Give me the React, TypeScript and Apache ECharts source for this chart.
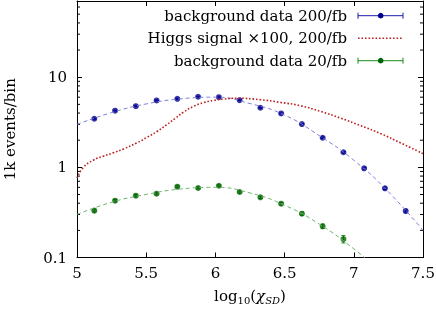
import React, { useEffect, useRef } from 'react';
import * as echarts from 'echarts';

// ---- data ----
const xBins = [5.125, 5.275, 5.425, 5.575, 5.725, 5.875, 6.025, 6.175, 6.325, 6.475, 6.625, 6.775, 6.925, 7.075, 7.225, 7.375];
const bg200 = [3.46, 4.25, 4.77, 5.52, 5.76, 6.07, 6.0, 5.56, 4.58, 3.96, 3.02, 2.13, 1.47, 0.975, 0.585, 0.328];
const bg200Err = [0.05, 0.05, 0.05, 0.06, 0.06, 0.06, 0.06, 0.06, 0.05, 0.05, 0.04, 0.04, 0.03, 0.025, 0.02, 0.015];
const bg20 = [0.331, 0.427, 0.485, 0.51, 0.61, 0.59, 0.625, 0.533, 0.465, 0.395, 0.306, 0.222, 0.16];
const bg20Err = [0.012, 0.013, 0.014, 0.014, 0.016, 0.015, 0.016, 0.015, 0.014, 0.013, 0.012, 0.013, 0.015];

const fit200X = [5.0, 5.25, 5.5, 5.75, 6.0, 6.25, 6.5, 6.75, 7.0, 7.25, 7.5];
const fit200Y = [2.99, 4.05, 5.05, 5.75, 6.0, 5.1, 3.8, 2.25, 1.2, 0.535, 0.2];
const fit20X = [5.0, 5.25, 5.5, 5.75, 6.0, 6.25, 6.5, 6.75, 7.0, 7.1];
const fit20Y = [0.3, 0.41, 0.5, 0.575, 0.6, 0.52, 0.38, 0.235, 0.125, 0.092];

const higgsX = [5.0, 5.046, 5.118, 5.19, 5.263, 5.336, 5.433, 5.505, 5.578, 5.65, 5.71, 5.77, 5.843, 5.915, 5.988, 6.06, 6.16, 6.326, 6.471, 6.616, 6.761, 6.906, 7.05, 7.196, 7.34, 7.5];
const higgsY = [0.76, 1.0, 1.2, 1.33, 1.45, 1.6, 1.87, 2.15, 2.5, 2.98, 3.5, 4.1, 4.75, 5.22, 5.52, 5.72, 5.84, 5.62, 5.25, 4.82, 4.17, 3.51, 2.9, 2.36, 1.86, 1.42];

const xTickLabels = ['5', '5.5', '6', '6.5', '7', '7.5'];
const yTickLabels = ['0.1', '1', '10'];
const yMinorTicks = [0.2, 0.3, 0.4, 0.5, 0.6, 0.7, 0.8, 0.9, 2, 3, 4, 5, 6, 7, 8, 9, 20, 30, 40, 50, 60];

const legendLabels = ['background data 200/fb', 'Higgs signal \u00d7100, 200/fb', 'background data 20/fb'];

const X_MIN = 5;
const X_MAX = 7.5;
const Y_MIN = 0.1;
const Y_MAX = 70;

const FONT = 'DejaVu Serif';
const BLUE = '#1c1cae';
const BLUE_PT = '#00008e';
const BLUE_FIT = '#7f7fd6';
const GREEN = '#1a8a1a';
const GREEN_PT = '#006400';
const GREEN_FIT = '#6fb46f';
const RED = '#bb2222';

function errorSeries(xs: number[], ys: number[], es: number[], color: string) {
  return {
    type: 'custom',
    silent: true,
    clip: true,
    data: xs.slice(0, ys.length).map((x, i) => [x, ys[i], es[i]]),
    encode: { x: 0, y: 1 },
    renderItem: (_p: any, api: any) => {
      const x = api.value(0);
      const y = api.value(1);
      const e = api.value(2);
      const top = api.coord([x, y + e]);
      const bot = api.coord([x, y - e]);
      const st = { stroke: color, lineWidth: 1 };
      return {
        type: 'group',
        children: [
          { type: 'line', shape: { x1: top[0], y1: top[1], x2: bot[0], y2: bot[1] }, style: st },
          { type: 'line', shape: { x1: top[0] - 2, y1: top[1], x2: top[0] + 2, y2: top[1] }, style: st },
          { type: 'line', shape: { x1: bot[0] - 2, y1: bot[1], x2: bot[0] + 2, y2: bot[1] }, style: st },
        ],
      };
    },
  };
}

export default function App() {
  const ref = useRef<HTMLDivElement>(null);
  useEffect(() => {
    if (!ref.current) return;
    const chart = echarts.init(ref.current, undefined, { renderer: 'svg' });

    const rowY = [15.7, 38.3, 60.7];
    const textRight = 347;
    const sx1 = 358;
    const sx2 = 403;
    const smid = 380.7;
    const legendGraphics: any[] = [];
    legendLabels.forEach((t, i) => {
      legendGraphics.push({
        type: 'text',
        x: textRight,
        y: rowY[i],
        style: { text: t, fill: '#000', fontFamily: FONT, fontSize: 15, align: 'right', verticalAlign: 'middle' },
      });
    });
    [[BLUE, BLUE_PT, 0], [GREEN, GREEN_PT, 2]].forEach(([c, cp, idx]: any) => {
      const y = rowY[idx];
      legendGraphics.push({ type: 'line', shape: { x1: sx1, y1: y, x2: sx2, y2: y }, style: { stroke: c, lineWidth: 1 } });
      legendGraphics.push({ type: 'line', shape: { x1: sx1, y1: y - 3, x2: sx1, y2: y + 3 }, style: { stroke: c, lineWidth: 1 } });
      legendGraphics.push({ type: 'line', shape: { x1: sx2, y1: y - 3, x2: sx2, y2: y + 3 }, style: { stroke: c, lineWidth: 1 } });
      legendGraphics.push({ type: 'circle', shape: { cx: smid, cy: y, r: 2.8 }, style: { fill: cp } });
    });
    legendGraphics.push({
      type: 'line',
      shape: { x1: sx1, y1: rowY[1], x2: sx2, y2: rowY[1] },
      style: { stroke: RED, lineWidth: 1.6, lineDash: [1.6, 1.9] },
    });

    const axisLineStyle = { color: '#000', width: 1 };

    chart.setOption({
      animation: false,
      grid: { left: 77, right: 13, top: 1, bottom: 51.5, containLabel: false, outerBoundsMode: 'none' },
      xAxis: [
        {
          type: 'value',
          min: X_MIN,
          max: X_MAX,
          interval: 0.5,
          position: 'bottom',
          axisLine: { show: true, onZero: false, lineStyle: axisLineStyle },
          axisTick: { show: true, inside: true, length: 5, lineStyle: axisLineStyle },
          axisLabel: {
            color: '#000',
            fontFamily: FONT,
            fontSize: 15,
            margin: 8,
            formatter: (v: number) => xTickLabels[Math.round((v - X_MIN) / 0.5)] ?? '',
          },
          splitLine: { show: false },
          name: '{a|log}{s|10}{a|(}{c|\u03c7}{ss|SD}{a|)}',
          nameLocation: 'middle',
          nameGap: 28,
          nameTextStyle: {
            rich: {
              a: { fontFamily: FONT, fontSize: 15, color: '#000', lineHeight: 20, verticalAlign: 'middle' },
              c: { fontFamily: FONT, fontSize: 15, fontStyle: 'italic', color: '#000', lineHeight: 20, verticalAlign: 'middle' },
              s: { fontFamily: FONT, fontSize: 10, color: '#000', lineHeight: 10, verticalAlign: 'bottom', padding: [8, 0, 0, 0] },
              ss: { fontFamily: FONT, fontSize: 10, fontStyle: 'italic', color: '#000', lineHeight: 10, verticalAlign: 'bottom', padding: [8, 0, 0, 0] },
            },
          },
        },
        {
          type: 'value',
          min: X_MIN,
          max: X_MAX,
          interval: 0.5,
          position: 'top',
          axisLine: { show: true, onZero: false, lineStyle: axisLineStyle },
          axisTick: { show: true, inside: true, length: 5, lineStyle: axisLineStyle },
          axisLabel: { show: false },
          splitLine: { show: false },
        },
      ],
      yAxis: [
        {
          type: 'log',
          logBase: 10,
          min: Y_MIN,
          max: Y_MAX,
          position: 'left',
          axisLine: { show: true, onZero: false, lineStyle: axisLineStyle },
          axisTick: { show: true, inside: true, length: 5, lineStyle: axisLineStyle },
          axisLabel: {
            color: '#000',
            fontFamily: FONT,
            fontSize: 15,
            margin: 10,
            showMaxLabel: false,
            formatter: (v: number) => {
              const k = Math.round(Math.log10(v)) + 1;
              return Math.abs(Math.log10(v) - Math.round(Math.log10(v))) < 1e-6 ? yTickLabels[k] ?? '' : '';
            },
          },
          splitLine: { show: false },
          minorTick: { show: false },
          name: '1k events/bin',
          nameLocation: 'middle',
          nameGap: 60,
          nameRotate: 90,
          nameTextStyle: { fontFamily: FONT, fontSize: 15, color: '#000' },
        },
        {
          type: 'log',
          logBase: 10,
          min: Y_MIN,
          max: Y_MAX,
          position: 'right',
          axisLine: { show: true, onZero: false, lineStyle: axisLineStyle },
          axisTick: { show: true, inside: true, length: 5, lineStyle: axisLineStyle },
          axisLabel: { show: false },
          splitLine: { show: false },
        },
      ],
      graphic: legendGraphics,
      series: [
        {
          type: 'line',
          data: fit200X.map((x, i) => [x, fit200Y[i]]),
          smooth: true,
          symbol: 'none',
          silent: true,
          clip: true,
          lineStyle: { color: BLUE_FIT, width: 1, type: [4, 3] },
        },
        {
          type: 'line',
          data: fit20X.map((x, i) => [x, fit20Y[i]]),
          smooth: true,
          symbol: 'none',
          silent: true,
          clip: true,
          lineStyle: { color: GREEN_FIT, width: 1, type: [4, 3] },
        },
        {
          type: 'line',
          data: higgsX.map((x, i) => [x, higgsY[i]]),
          smooth: 0.5,
          symbol: 'none',
          silent: true,
          clip: true,
          lineStyle: { color: RED, width: 1.6, type: [1.6, 1.9] },
        },
        errorSeries(xBins, bg200, bg200Err, BLUE),
        {
          type: 'scatter',
          data: xBins.map((x, i) => [x, bg200[i]]),
          symbol: 'circle',
          symbolSize: 6,
          itemStyle: { color: BLUE_PT },
          silent: true,
        },
        errorSeries(xBins, bg20, bg20Err, GREEN),
        {
          type: 'scatter',
          data: bg20.map((y, i) => [xBins[i], y]),
          symbol: 'circle',
          symbolSize: 6,
          itemStyle: { color: GREEN_PT },
          silent: true,
        },
        {
          type: 'custom',
          silent: true,
          clip: false,
          data: yMinorTicks.map((v) => [X_MIN, v]),
          encode: { x: 0, y: 1 },
          renderItem: (_p: any, api: any) => {
            const v = api.value(1);
            const l = api.coord([X_MIN, v]);
            const r = api.coord([X_MAX, v]);
            const st = { stroke: '#000', lineWidth: 1 };
            return {
              type: 'group',
              children: [
                { type: 'line', shape: { x1: l[0], y1: l[1], x2: l[0] + 3, y2: l[1] }, style: st },
                { type: 'line', shape: { x1: r[0] - 3, y1: r[1], x2: r[0], y2: r[1] }, style: st },
              ],
            };
          },
        },
      ],
    });
    return () => chart.dispose();
  }, []);
  return <div ref={ref} style={{ position: 'fixed', left: 0, top: 0, width: 436, height: 309 }} />;
}
